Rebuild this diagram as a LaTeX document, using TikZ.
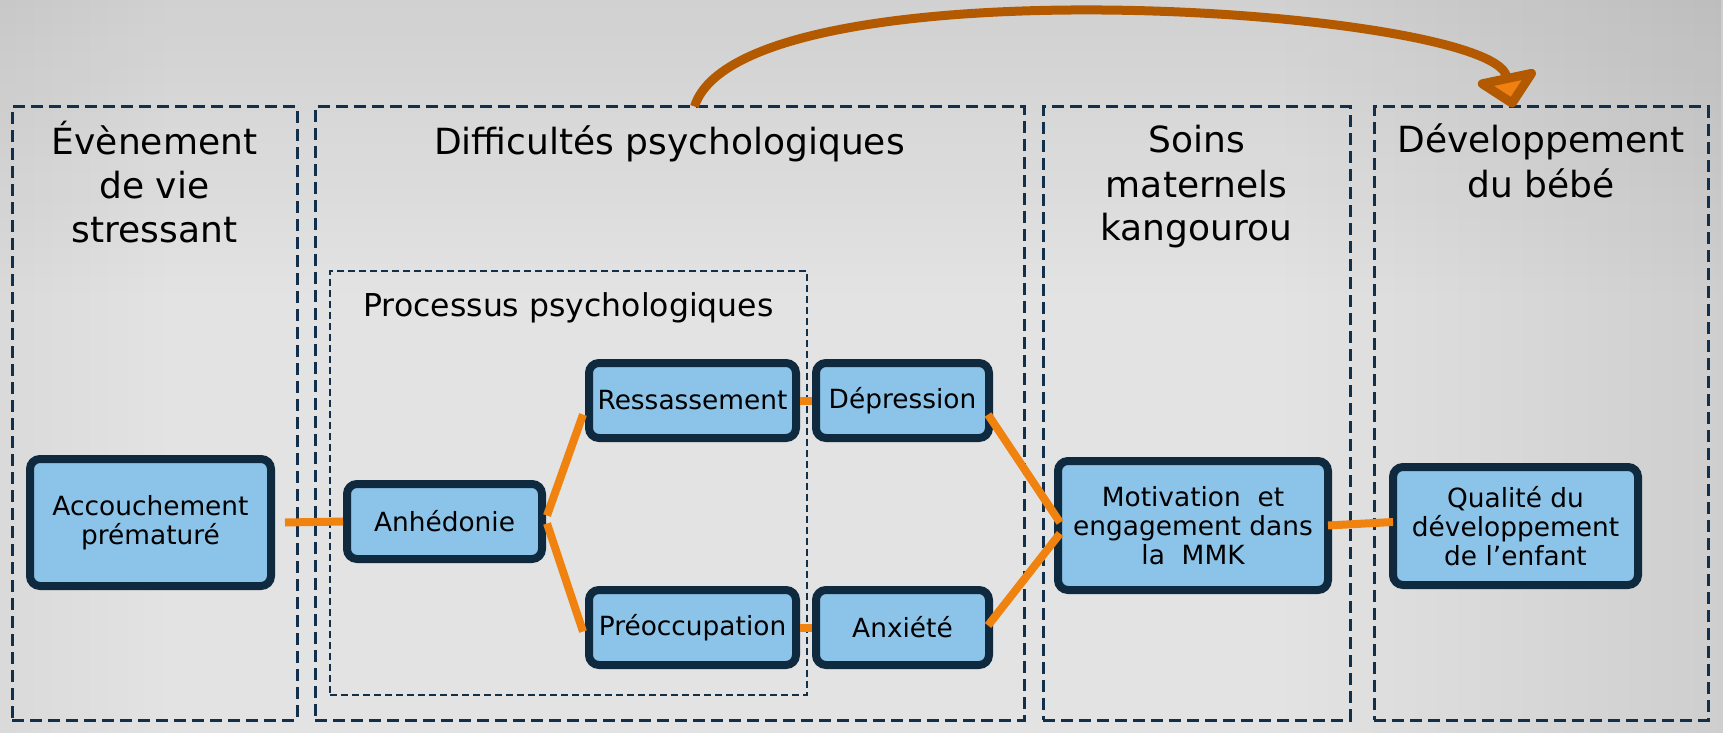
\documentclass[tikz,border=0pt]{standalone}
\usepackage{fontspec}
\setmainfont{DejaVu Sans}
\usetikzlibrary{arrows.meta,calc,fadings}
\definecolor{bgA}{HTML}{ABABAB}
\definecolor{bgB}{HTML}{E3E3E3}
\definecolor{bgC}{HTML}{A6A6A6}
\definecolor{navy}{HTML}{12304A}
\definecolor{boxblue}{HTML}{8BC4E8}
\definecolor{boxline}{HTML}{0F2A3E}
\definecolor{connorange}{HTML}{F0820F}
\definecolor{arrowbrown}{HTML}{B35A00}
\definecolor{arrowfill}{HTML}{F08010}
\pgfdeclarehorizontalshading{bgshade}{100bp}{color(0bp)=(bgA); color(30bp)=(bgB); color(62bp)=(bgB); color(100bp)=(bgC)}
\newcommand\ttlfont{\fontsize{36}{44}\selectfont}
\newcommand\ndfont{\fontsize{26.4}{29}\selectfont}
\newcommand\tlines[1]{\begin{tabular}[t]{@{}c@{}}#1\end{tabular}}
\tikzset{
  panel/.style={draw=navy, line width=3pt, dash pattern=on 12pt off 6pt, inner sep=0pt},
  inbox/.style={draw=navy, line width=2pt, dash pattern=on 7pt off 4pt, inner sep=0pt},
  box/.style={draw=boxline, fill=boxblue, line width=8pt, rounded corners=10pt, align=center, inner sep=0pt, font=\ndfont},
  conn/.style={draw=connorange, line width=8pt},
  title/.style={anchor=base, inner sep=0pt, font=\ttlfont},
  bigarrow/.style={draw=arrowbrown, line width=9pt, -{Triangle[length=36pt 0 0,width=70pt 0 0,round,fill=arrowfill]}}
}
\begin{document}
\begin{tikzpicture}[x=1pt,y=-1pt]
\useasboundingbox (0,0) rectangle (1723,733);
\shade[shading=bgshade] (0,0) rectangle (1723,733);
\fill[black, path fading=south, fill opacity=0.08] (0,0) rectangle (1723,300);
% panels
\node[panel, minimum width=285, minimum height=613] (p1) at (154.5,413.5) {};
\node[panel, minimum width=709, minimum height=613] (p2) at (669.5,413.5) {};
\node[panel, minimum width=307, minimum height=613] (p3) at (1196.5,413.5) {};
\node[panel, minimum width=334, minimum height=613] (p4) at (1541,413.5) {};
\node[inbox, minimum width=477, minimum height=424] (pp) at (568.5,483) {};
% titles
\node[title] (t1) at (154.5,154) {\tlines{Évènement\\de vie\\stressant}};
\node[title] (t2) at (669.5,154) {Difficultés psychologiques};
\node[title] (t3) at (1196.5,153) {\tlines{Soins\\maternels\\kangourou}};
\node[title] (t4) at (1541,153) {\tlines{Développement\\du bébé}};
\node[title, font=\fontsize{31.5}{36}\selectfont] (tp) at (568.5,316) {Processus psychologiques};
% boxes
\node[box, minimum width=241, minimum height=127] (acc) at (150.5,522.5) {Accouchement\\prématuré};
\node[box, minimum width=195, minimum height=75] (anh) at (444.5,521.5) {Anhédonie};
\node[box, minimum width=207, minimum height=75] (res) at (692.5,400.5) {Ressassement};
\node[box, minimum width=173, minimum height=75] (dep) at (902.5,400.5) {Dépression};
\node[box, minimum width=207, minimum height=75] (pre) at (692.5,627.5) {Préoccupation};
\node[box, minimum width=173, minimum height=75] (anx) at (902.5,627.5) {Anxiété};
\node[box, minimum width=270, minimum height=129] (mot) at (1193,525.5) {Motivation~~et\\engagement dans\\la~~MMK};
\node[box, minimum width=245, minimum height=118] (qua) at (1515.5,526) {Qualité du\\développement\\de l’enfant};
% connectors
\draw[conn] ($(acc.east)+(10,0)$) -- (anh.west);
\draw[conn] ($(anh.east)+(1,-6)$) -- ($(res.west)+(-2,14)$);
\draw[conn] ($(anh.east)+(1,2)$) -- ($(pre.west)+(-2,4)$);
\draw[conn] (res.east) -- (dep.west);
\draw[conn] (pre.east) -- (anx.west);
\draw[conn] ($(dep.east)+(-5,14)$) -- ($(mot.west)+(6,-3)$);
\draw[conn] ($(anx.east)+(-5,-2)$) -- ($(mot.west)+(6,8)$);
\draw[conn] ($(mot.east)+(-4,0)$) -- ($(qua.west)+(4,-4)$);
% big arrow
\draw[bigarrow] ($(p2.north)+(25,1)$) .. controls (742,-42) and (1492,8) .. ($(p4.north)+(-28,2)$);
\end{tikzpicture}
\end{document}
